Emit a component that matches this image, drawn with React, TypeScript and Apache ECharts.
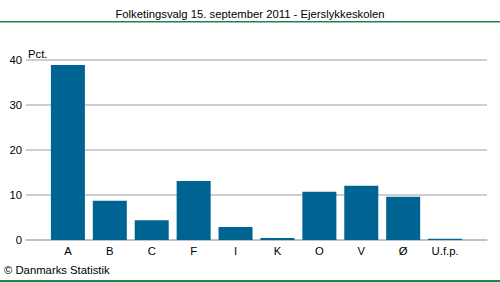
import React, { useEffect, useRef } from "react";
import * as echarts from "echarts";

const categories = ["", "A", "B", "C", "F", "I", "K", "O", "V", "Ø", "U.f.p.", ""];
const values = [null, 38.8, 8.7, 4.4, 13.1, 2.9, 0.45, 10.7, 12.0, 9.6, 0.25, null];
const yTicks = { min: 0, max: 40, interval: 10 };
const title = "Folketingsvalg 15. september 2011 - Ejerslykkeskolen";
const unit = "Pct.";
const source = "© Danmarks Statistik";

export default function App() {
  const ref = useRef<HTMLDivElement>(null);
  useEffect(() => {
    document.body.style.margin = "0";
    const chart = echarts.init(ref.current!, null, { renderer: "svg" });
    const font = "Liberation Sans, Arial, sans-serif";
    chart.setOption({
      animation: false,
      textStyle: { fontFamily: font },
      title: {
        text: title,
        left: "center",
        top: 3,
        textStyle: { fontSize: 11.3, fontWeight: "normal", color: "#000", fontFamily: font },
      },
      grid: { left: 26, right: 13, top: 59.5, bottom: 42 },
      xAxis: {
        type: "category",
        data: categories,
        boundaryGap: false,
        axisLine: { show: true, lineStyle: { color: "#bdbdc6", width: 1.5 } },
        axisTick: { show: false },
        axisLabel: { color: "#000", fontSize: 11.3, margin: 5, interval: 0, fontFamily: font },
        splitLine: { show: false },
      },
      yAxis: {
        type: "value",
        min: yTicks.min,
        max: yTicks.max,
        interval: yTicks.interval,
        name: unit,
        nameLocation: "end",
        nameGap: 0,
        nameTextStyle: { align: "left", color: "#000", fontSize: 11.3, padding: [0, 0, 0, 2], fontFamily: font },
        axisLine: { show: false },
        axisTick: { show: false },
        axisLabel: { color: "#000", fontSize: 11.3, margin: 4, fontFamily: font },
        splitLine: { show: true, lineStyle: { color: "#bdbdc6", width: 1.5 } },
      },
      series: [
        {
          type: "bar",
          data: values,
          barWidth: 34,
          itemStyle: { color: "#006492" },
        },
      ],
      graphic: [
        { type: "rect", shape: { x: 0, y: 21, width: 500, height: 1.5 }, style: { fill: "#138a4a" } },
        { type: "rect", shape: { x: 0, y: 280, width: 500, height: 2 }, style: { fill: "#138a4a" } },
        {
          type: "text",
          x: 4,
          y: 264,
          style: { text: source, fontSize: 11.3, fill: "#000", fontFamily: font },
        },
      ],
    });
    return () => chart.dispose();
  }, []);
  return <div ref={ref} style={{ width: 500, height: 282 }} />;
}
